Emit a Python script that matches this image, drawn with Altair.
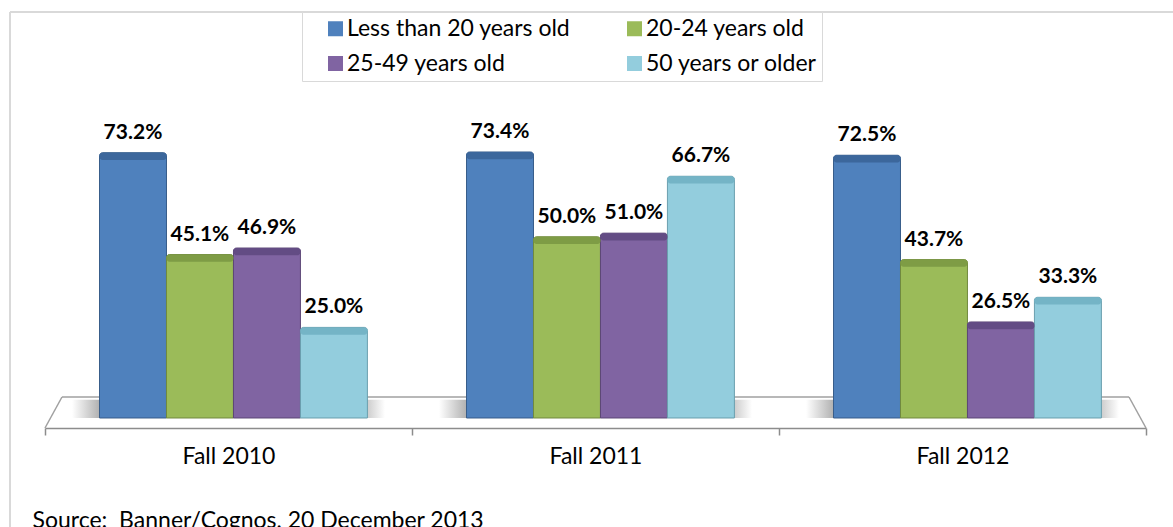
import altair as alt
import pandas as pd

# ---- data -----------------------------------------------------------------
years = ["Fall 2010", "Fall 2011", "Fall 2012"]
age_groups = [
    "Less than 20 years old",
    "20-24 years old",
    "25-49 years old",
    "50 years or older",
]
under_20 = [73.2, 73.4, 72.5]
age_20_24 = [45.1, 50.0, 43.7]
age_25_49 = [46.9, 51.0, 26.5]
age_50_plus = [25.0, 66.7, 33.3]

source_note = "Source:\u00a0\u00a0Banner/Cognos, 20 December 2013"

# ---- styling --------------------------------------------------------------
face_colors = ["#4f81bd", "#9bbb59", "#8064a2", "#93cddd"]
top_colors = ["#3c679c", "#7e9c45", "#634c84", "#74b4c6"]
edge_colors = ["#385d8a", "#71893f", "#5c4776", "#6a9fae"]

FONT = "Lato"
W, H = 1163, 515          # plot area (the grey frame)
Y_MIN, Y_MAX = -30.08, 112.03

series = [under_20, age_20_24, age_25_49, age_50_plus]
rows = []
for grp, vals, top, edge in zip(age_groups, series, top_colors, edge_colors):
    for yr, v in zip(years, vals):
        rows.append({"year": yr, "group": grp, "value": v, "top": top, "edge": edge})
df = pd.DataFrame(rows)

yscale = alt.Scale(domain=[Y_MIN, Y_MAX], nice=False, zero=False)

x_enc = alt.X(
    "year:N",
    sort=years,
    scale=alt.Scale(range=[35, 1136], paddingInner=0, paddingOuter=0),
    axis=alt.Axis(
        title=source_note,
        titleX=22,
        titleY=99,
        titleAlign="left",
        titleBaseline="alphabetic",
        titleAnchor="start",
        titleFont=FONT,
        titleFontSize=23,
        titleFontWeight="normal",
        titleColor="black",
        labelFont=FONT,
        labelFontSize=23,
        labelColor="black",
        labelAngle=0,
        labelPadding=10,
        offset=-99,
        tickBand="extent",
        tickSize=7,
        tickColor="#8c8c8c",
        tickWidth=1.5,
        domainColor="#8c8c8c",
        domainWidth=1.5,
        grid=False,
    ),
)
xoff_enc = alt.XOffset(
    "group:N",
    sort=age_groups,
    scale=alt.Scale(paddingInner=0, paddingOuter=0.74, align=0.55),
)

# soft floor shadow under each group of columns
shadow = alt.Chart(pd.DataFrame({"year": years})).mark_bar(
    width=313,
    color=alt.Gradient(
        gradient="linear",
        x1=0, x2=1, y1=0, y2=0,
        stops=[
            alt.GradientStop(color="#ffffff", offset=0),
            alt.GradientStop(color="#a6a6a6", offset=0.1),
            alt.GradientStop(color="#a6a6a6", offset=0.9),
            alt.GradientStop(color="#ffffff", offset=1),
        ],
    ),
).encode(
    x=x_enc,
    y=alt.Y(datum=0, scale=yscale, axis=None),
    y2=alt.Y2(datum=5),
)

one = pd.DataFrame({"k": [0]})
floor_style = dict(color="#a0a0a0", strokeWidth=1.5)
floor_back = alt.Chart(one).mark_rule(**floor_style).encode(
    x=alt.value(52), x2=alt.value(1119), y=alt.value(385), y2=alt.value(385)
)
floor_left = alt.Chart(one).mark_rule(**floor_style).encode(
    x=alt.value(35), x2=alt.value(52), y=alt.value(416), y2=alt.value(385)
)
floor_right = alt.Chart(one).mark_rule(**floor_style).encode(
    x=alt.value(1136), x2=alt.value(1119), y=alt.value(416), y2=alt.value(385)
)
frame_top = alt.Chart(one).mark_rule(color="#d9d9d9", strokeWidth=2).encode(
    x=alt.value(0), x2=alt.value(W), y=alt.value(0), y2=alt.value(0)
)
frame_left = alt.Chart(one).mark_rule(color="#d9d9d9", strokeWidth=2).encode(
    x=alt.value(0), x2=alt.value(0), y=alt.value(0), y2=alt.value(H)
)

base = alt.Chart(df).encode(x=x_enc, xOffset=xoff_enc)

columns = base.mark_bar(
    strokeWidth=1, cornerRadiusTopLeft=3, cornerRadiusTopRight=3
).encode(
    y=alt.Y("value:Q", scale=yscale, axis=None),
    y2=alt.Y2(datum=0),
    color=alt.Color(
        "group:N",
        sort=age_groups,
        scale=alt.Scale(domain=age_groups, range=face_colors),
        legend=alt.Legend(
            title=None,
            orient="none",
            legendX=292,
            legendY=0,
            direction="horizontal",
            columns=2,
            gridAlign="all",
            columnPadding=35,
            rowPadding=11,
            padding=5,
            symbolType="square",
            symbolSize=225,
            symbolOffset=17,
            symbolStrokeWidth=0,
            labelOffset=0,
            labelFont=FONT,
            labelFontSize=23,
            labelColor="black",
            labelLimit=500,
            strokeColor="#d9d9d9",
            fillColor="white",
        ),
    ),
    stroke=alt.Stroke("edge:N", scale=None),
)

caps = base.transform_calculate(cap_lo="datum.value - 2").mark_bar(
    cornerRadius=3
).encode(
    y=alt.Y("value:Q", scale=yscale, axis=None),
    y2="cap_lo:Q",
    color=alt.Color("top:N", scale=None),
)

labels = base.transform_calculate(
    label="format(datum.value, '.1f') + '%'"
).mark_text(
    font=FONT, fontSize=21, fontWeight="bold", baseline="alphabetic", dy=-14, color="black"
).encode(
    y=alt.Y("value:Q", scale=yscale, axis=None),
    text="label:N",
)

chart = alt.layer(
    frame_top, frame_left, shadow, floor_back, floor_left, floor_right,
    columns, caps, labels,
).properties(
    width=W,
    height=H,
    padding={"left": 10, "top": 12, "right": 0, "bottom": 0},
    autosize=alt.AutoSizeParams(type="none"),
    background="white",
).configure_view(stroke=None).configure(font=FONT)

chart.save("out.html", embed_options={"renderer": "svg", "actions": False})
